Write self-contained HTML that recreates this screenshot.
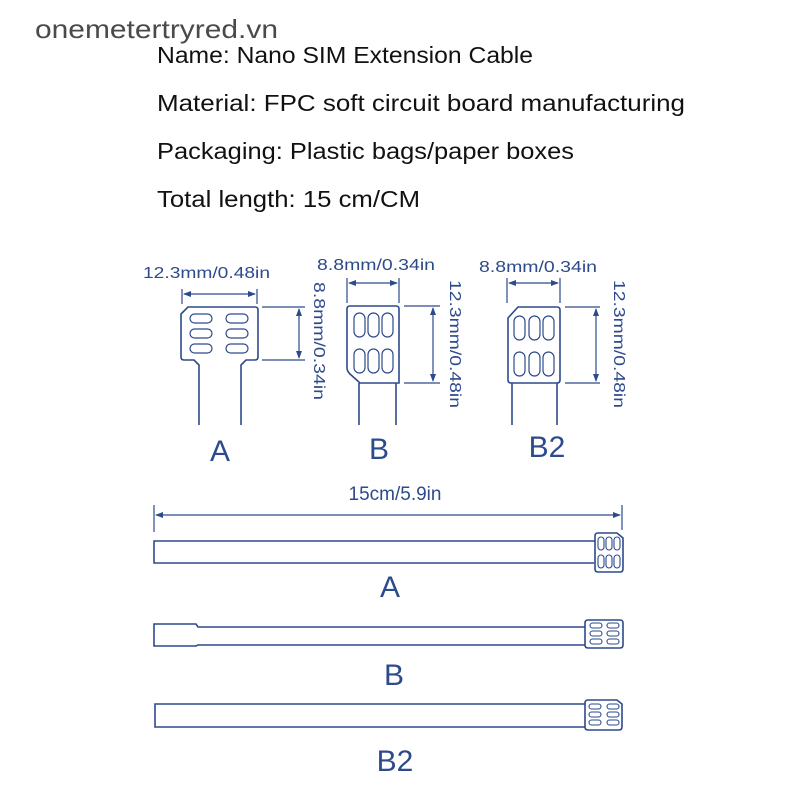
<!DOCTYPE html>
<html><head><meta charset="utf-8"><style>html,body{margin:0;padding:0;background:#fff}svg{display:block}</style></head><body>
<svg width="800" height="800" viewBox="0 0 800 800" xmlns="http://www.w3.org/2000/svg" font-family="Liberation Sans, sans-serif">
<rect width="800" height="800" fill="#fff"/>
<text x="35" y="38" font-size="26" fill="#4a4a4a" textLength="243" lengthAdjust="spacingAndGlyphs">onemetertryred.vn</text>
<g fill="#111" font-size="23">
<text x="157" y="63" textLength="376" lengthAdjust="spacingAndGlyphs">Name: Nano SIM Extension Cable</text>
<text x="157" y="111" textLength="528" lengthAdjust="spacingAndGlyphs">Material: FPC soft circuit board manufacturing</text>
<text x="157" y="159" textLength="417" lengthAdjust="spacingAndGlyphs">Packaging: Plastic bags/paper boxes</text>
<text x="157" y="207" textLength="263" lengthAdjust="spacingAndGlyphs">Total length: 15 cm/CM</text>
</g>
<defs>
<marker id="ar" markerWidth="8" markerHeight="6" refX="7" refY="3" orient="auto-start-reverse" markerUnits="userSpaceOnUse"><path d="M0,0 L8,3 L0,6 z" fill="#2d4a8c"/></marker>
</defs>
<g stroke="#2d4a8c" stroke-width="1.6" fill="none">
<!-- Card A -->
<path d="M199,425 V365 l-5,-5 H184 q-3,0 -3,-3 V314 L188,307 H255 q3,0 3,3 V357 q0,3 -3,3 H246 l-5,5 V425"/>
<g stroke-width="1.2">
<rect x="190" y="314" width="22" height="9" rx="4.5"/><rect x="226" y="314" width="22" height="9" rx="4.5"/>
<rect x="190" y="329" width="22" height="9" rx="4.5"/><rect x="226" y="329" width="22" height="9" rx="4.5"/>
<rect x="190" y="344" width="22" height="9" rx="4.5"/><rect x="226" y="344" width="22" height="9" rx="4.5"/>
</g>
<path d="M182,289 V304 M257,289 V304 M262,307 H305 M262,360 H305" stroke-width="1.2"/>
<path d="M184,294 H255" stroke-width="1.2" marker-start="url(#ar)" marker-end="url(#ar)"/>
<path d="M299,309 V358" stroke-width="1.2" marker-start="url(#ar)" marker-end="url(#ar)"/>
<!-- Card B -->
<path d="M350,306 H396 q3,0 3,3 V383 H360 l-10,-9 q-3,-3 -3,-6 V309 q0,-3 3,-3 Z M359,383 V425 M396,383 V425"/>
<g stroke-width="1.2">
<rect x="354" y="313" width="11" height="24" rx="5.5"/><rect x="368" y="313" width="11" height="24" rx="5.5"/><rect x="382" y="313" width="11" height="24" rx="5.5"/>
<rect x="354" y="349" width="11" height="24" rx="5.5"/><rect x="368" y="349" width="11" height="24" rx="5.5"/><rect x="382" y="349" width="11" height="24" rx="5.5"/>
</g>
<path d="M347,278 V303 M399,278 V303 M404,306 H440 M404,383 H440" stroke-width="1.2"/>
<path d="M349,283 H397" stroke-width="1.2" marker-start="url(#ar)" marker-end="url(#ar)"/>
<path d="M433,308 V381" stroke-width="1.2" marker-start="url(#ar)" marker-end="url(#ar)"/>
<!-- Card B2 -->
<path d="M518,307 H557 q3,0 3,3 V380 q0,3 -3,3 H511 q-3,0 -3,-3 V318 Z M512,383 V425 M557,383 V425"/>
<g stroke-width="1.2">
<rect x="514" y="316" width="11" height="24" rx="5.5"/><rect x="529" y="316" width="11" height="24" rx="5.5"/><rect x="543" y="316" width="11" height="24" rx="5.5"/>
<rect x="514" y="352" width="11" height="24" rx="5.5"/><rect x="529" y="352" width="11" height="24" rx="5.5"/><rect x="543" y="352" width="11" height="24" rx="5.5"/>
</g>
<path d="M507,278 V303 M560,278 V303 M565,307 H600 M565,383 H600" stroke-width="1.2"/>
<path d="M509,283 H558" stroke-width="1.2" marker-start="url(#ar)" marker-end="url(#ar)"/>
<path d="M596,309 V381" stroke-width="1.2" marker-start="url(#ar)" marker-end="url(#ar)"/>
<!-- long dimension -->
<path d="M154,505 V532 M622,505 V530" stroke-width="1.2"/>
<path d="M156,515 H620" stroke-width="1.2" marker-start="url(#ar)" marker-end="url(#ar)"/>
<!-- Cable A -->
<path d="M595,541 H154 V563 H594"/>
<path d="M598,533 H617 l6,5 V569 q0,3 -3,3 H598 q-3,0 -3,-3 V536 q0,-3 3,-3 Z"/>
<g stroke-width="1.1">
<rect x="598" y="537" width="6" height="13" rx="3"/><rect x="606" y="537" width="6" height="13" rx="3"/><rect x="614" y="537" width="6" height="13" rx="3"/>
<rect x="598" y="555" width="6" height="13" rx="3"/><rect x="606" y="555" width="6" height="13" rx="3"/><rect x="614" y="555" width="6" height="13" rx="3"/>
</g>
<!-- Cable B -->
<path d="M585,627 H198 l-2,-3 H154 V646 H196 l2,-1 H585"/>
<path d="M588,620 H620 q3,0 3,3 V645 q0,3 -3,3 H588 q-3,0 -3,-3 V623 q0,-3 3,-3 Z"/>
<g stroke-width="1.1">
<rect x="590" y="623" width="12" height="5" rx="2.5"/><rect x="607" y="623" width="12" height="5" rx="2.5"/>
<rect x="590" y="631" width="12" height="5" rx="2.5"/><rect x="607" y="631" width="12" height="5" rx="2.5"/>
<rect x="590" y="639" width="12" height="5" rx="2.5"/><rect x="607" y="639" width="12" height="5" rx="2.5"/>
</g>
<!-- Cable B2 -->
<path d="M585,704 H155 V727 H585"/>
<path d="M588,700 H617 l5,4 V727 q0,3 -3,3 H588 q-3,0 -3,-3 V703 q0,-3 3,-3 Z"/>
<g stroke-width="1.1">
<rect x="589" y="704" width="12" height="5" rx="2.5"/><rect x="607" y="704" width="12" height="5" rx="2.5"/>
<rect x="589" y="712" width="12" height="5" rx="2.5"/><rect x="607" y="712" width="12" height="5" rx="2.5"/>
<rect x="589" y="720" width="12" height="5" rx="2.5"/><rect x="607" y="720" width="12" height="5" rx="2.5"/>
</g>
</g>
<g fill="#2d4a8c">
<text x="143" y="278" font-size="16" textLength="127" lengthAdjust="spacingAndGlyphs">12.3mm/0.48in</text>
<text x="317" y="270" font-size="16" textLength="118" lengthAdjust="spacingAndGlyphs">8.8mm/0.34in</text>
<text x="479" y="272" font-size="16" textLength="118" lengthAdjust="spacingAndGlyphs">8.8mm/0.34in</text>
<text transform="translate(314,282) rotate(90)" font-size="16" textLength="118" lengthAdjust="spacingAndGlyphs">8.8mm/0.34in</text>
<text transform="translate(450,280) rotate(90)" font-size="16" textLength="128" lengthAdjust="spacingAndGlyphs">12.3mm/0.48in</text>
<text transform="translate(614,280) rotate(90)" font-size="16" textLength="128" lengthAdjust="spacingAndGlyphs">12.3mm/0.48in</text>
<g font-size="30" text-anchor="middle">
<text x="220" y="461">A</text>
<text x="379" y="459">B</text>
<text x="547" y="457">B2</text>
<text x="390" y="597">A</text>
<text x="394" y="685">B</text>
<text x="395" y="771">B2</text>
</g>
<text x="395" y="500" font-size="19" text-anchor="middle">15cm/5.9in</text>
</g>
</svg>
</body></html>
